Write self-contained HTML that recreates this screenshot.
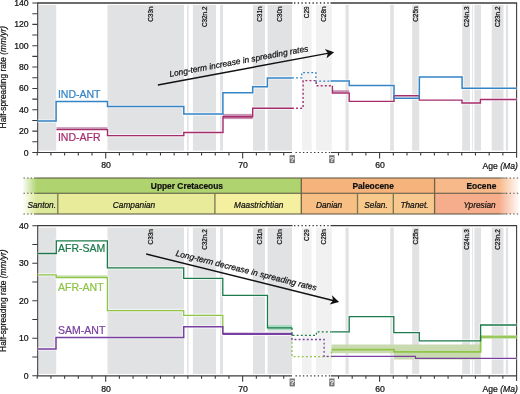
<!DOCTYPE html><html><head><meta charset="utf-8"><style>
html,body{margin:0;padding:0;background:#fff;}body{width:520px;height:394px;overflow:hidden;}
svg{display:block;will-change:transform;font-family:"Liberation Sans",sans-serif;}
</style></head><body>
<svg width="520" height="394" viewBox="0 0 520 394">
<defs>
<linearGradient id="fadeL" x1="0" x2="1" y1="0" y2="0"><stop offset="0" stop-color="#fff" stop-opacity="1"/><stop offset="1" stop-color="#fff" stop-opacity="0"/></linearGradient>
<linearGradient id="fadeR" x1="0" x2="1" y1="0" y2="0"><stop offset="0" stop-color="#fff" stop-opacity="0"/><stop offset="1" stop-color="#fff" stop-opacity="1"/></linearGradient>
</defs>
<rect x="38.4" y="4.9" width="17.8" height="145.7" fill="#e1e2e4"/>
<rect x="107.5" y="4.9" width="76.5" height="145.7" fill="#e1e2e4"/>
<rect x="187.1" y="4.9" width="1.5" height="145.7" fill="#e1e2e4"/>
<rect x="192.9" y="4.9" width="23.1" height="145.7" fill="#e1e2e4"/>
<rect x="220.1" y="4.9" width="2.9" height="145.7" fill="#e1e2e4"/>
<rect x="253" y="4.9" width="12" height="145.7" fill="#e1e2e4"/>
<rect x="267.6" y="4.9" width="24.4" height="145.7" fill="#e1e2e4"/>
<rect x="302" y="4.9" width="9.6" height="145.7" fill="#f1f1f1"/>
<rect x="316" y="4.9" width="15.8" height="145.7" fill="#f1f1f1"/>
<rect x="345.5" y="4.9" width="3.2" height="145.7" fill="#e1e2e4"/>
<rect x="390.2" y="4.9" width="3.6" height="145.7" fill="#e1e2e4"/>
<rect x="412.2" y="4.9" width="7" height="145.7" fill="#e1e2e4"/>
<rect x="462.2" y="4.9" width="7.8" height="145.7" fill="#e1e2e4"/>
<rect x="472.1" y="4.9" width="0.8" height="145.7" fill="#e1e2e4"/>
<rect x="474.4" y="4.9" width="6.6" height="145.7" fill="#e1e2e4"/>
<rect x="491.7" y="4.9" width="11.8" height="145.7" fill="#e1e2e4"/>
<rect x="505.8" y="4.9" width="2.3" height="145.7" fill="#e1e2e4"/>
<text transform="translate(152.5,6.5) rotate(-90)" text-anchor="end" font-size="6.4" fill="#111" stroke="#111" stroke-width="0.22">C33n</text>
<text transform="translate(207.1,6.5) rotate(-90)" text-anchor="end" font-size="6.4" fill="#111" stroke="#111" stroke-width="0.22">C32n.2</text>
<text transform="translate(261.5,6.5) rotate(-90)" text-anchor="end" font-size="6.4" fill="#111" stroke="#111" stroke-width="0.22">C31n</text>
<text transform="translate(282.3,6.5) rotate(-90)" text-anchor="end" font-size="6.4" fill="#111" stroke="#111" stroke-width="0.22">C30n</text>
<text transform="translate(309.3,6.5) rotate(-90)" text-anchor="end" font-size="6.4" fill="#111" stroke="#111" stroke-width="0.22">C29</text>
<text transform="translate(326.1,6.5) rotate(-90)" text-anchor="end" font-size="6.4" fill="#111" stroke="#111" stroke-width="0.22">C28n</text>
<text transform="translate(418.1,6.5) rotate(-90)" text-anchor="end" font-size="6.4" fill="#111" stroke="#111" stroke-width="0.22">C25n</text>
<text transform="translate(468.6,6.5) rotate(-90)" text-anchor="end" font-size="6.4" fill="#111" stroke="#111" stroke-width="0.22">C24n.3</text>
<text transform="translate(500,6.5) rotate(-90)" text-anchor="end" font-size="6.4" fill="#111" stroke="#111" stroke-width="0.22">C23n.2</text>
<path d="M37.1 3H292.5M330.5 3H517.1" stroke="#3c3c3c" stroke-width="1.3" fill="none"/>
<path d="M294 3H330" stroke="#3c3c3c" stroke-width="1.3" stroke-dasharray="1.4 2.3" fill="none"/>
<path d="M37.1 152.5H292M330.8 152.5H517.1" stroke="#3c3c3c" stroke-width="1.2" fill="none"/>
<path d="M295.5 152.5H330" stroke="#3c3c3c" stroke-width="1.2" stroke-dasharray="1.4 2.3" fill="none"/>
<path d="M37.7 3V152.5" stroke="#3c3c3c" stroke-width="1.1" fill="none"/>
<path d="M516.6 3V157.8" stroke="#3c3c3c" stroke-width="1.1" fill="none"/>
<path d="M32.3 152.5H37.7M32.3 141.82H37.7M32.3 131.14H37.7M32.3 120.46H37.7M32.3 109.79H37.7M32.3 99.11H37.7M32.3 88.43H37.7M32.3 77.75H37.7M32.3 67.07H37.7M32.3 56.39H37.7M32.3 45.71H37.7M32.3 35.04H37.7M32.3 24.36H37.7M32.3 13.68H37.7M32.3 3H37.7" stroke="#3c3c3c" stroke-width="1.1" fill="none"/>
<path d="M37.23 152.5v3M50.92 152.5v3M64.62 152.5v3M78.31 152.5v3M92 152.5v3M105.7 152.5v5.9M119.4 152.5v3M133.09 152.5v3M146.78 152.5v3M160.48 152.5v3M174.18 152.5v3M187.87 152.5v3M201.56 152.5v3M215.26 152.5v3M228.95 152.5v3M242.65 152.5v5.9M256.35 152.5v3M270.04 152.5v3M283.74 152.5v3M338.51 152.5v3M352.21 152.5v3M365.9 152.5v3M379.6 152.5v5.9M393.3 152.5v3M406.99 152.5v3M420.69 152.5v3M434.38 152.5v3M448.07 152.5v3M461.77 152.5v3M475.46 152.5v3M489.16 152.5v3M502.86 152.5v3" stroke="#3c3c3c" stroke-width="1.1" fill="none"/>
<rect x="289.6" y="155.2" width="5.3" height="7.9" fill="#747474"/>
<text x="292.25" y="162.1" text-anchor="middle" font-size="7.6" font-weight="bold" fill="#e6e6e6" stroke="#e6e6e6" stroke-width="0.22">?</text>
<rect x="329.2" y="155.2" width="5.3" height="7.9" fill="#747474"/>
<text x="331.85" y="162.1" text-anchor="middle" font-size="7.6" font-weight="bold" fill="#e6e6e6" stroke="#e6e6e6" stroke-width="0.22">?</text>
<text transform="translate(106.1,168.4) scale(1,1.08)" text-anchor="middle" font-size="8.7" fill="#111" stroke="#111" stroke-width="0.22">80</text>
<text transform="translate(243.05,168.4) scale(1,1.08)" text-anchor="middle" font-size="8.7" fill="#111" stroke="#111" stroke-width="0.22">70</text>
<text transform="translate(380,168.4) scale(1,1.08)" text-anchor="middle" font-size="8.7" fill="#111" stroke="#111" stroke-width="0.22">60</text>
<text x="517.8" y="168.5" text-anchor="end" font-size="8.6" fill="#111" stroke="#111" stroke-width="0.22">Age <tspan font-style="italic">(Ma)</tspan></text>
<text transform="translate(28.7,155.5) scale(1,1.08)" text-anchor="end" font-size="8.7" fill="#111" stroke="#111" stroke-width="0.22">0</text>
<text transform="translate(28.7,134.14) scale(1,1.08)" text-anchor="end" font-size="8.7" fill="#111" stroke="#111" stroke-width="0.22">20</text>
<text transform="translate(28.7,112.79) scale(1,1.08)" text-anchor="end" font-size="8.7" fill="#111" stroke="#111" stroke-width="0.22">40</text>
<text transform="translate(28.7,91.43) scale(1,1.08)" text-anchor="end" font-size="8.7" fill="#111" stroke="#111" stroke-width="0.22">60</text>
<text transform="translate(28.7,70.07) scale(1,1.08)" text-anchor="end" font-size="8.7" fill="#111" stroke="#111" stroke-width="0.22">80</text>
<text transform="translate(28.7,48.71) scale(1,1.08)" text-anchor="end" font-size="8.7" fill="#111" stroke="#111" stroke-width="0.22">100</text>
<text transform="translate(28.7,27.36) scale(1,1.08)" text-anchor="end" font-size="8.7" fill="#111" stroke="#111" stroke-width="0.22">120</text>
<text transform="translate(28.7,6) scale(1,1.08)" text-anchor="end" font-size="8.7" fill="#111" stroke="#111" stroke-width="0.22">140</text>
<text transform="translate(6.1,77.2) rotate(-90)" text-anchor="middle" font-size="8.4" fill="#111" stroke="#111" stroke-width="0.22">Half-spreading rate <tspan font-style="italic">(mm/yr)</tspan></text>
<path d="M56.5 129.6 L107.5 129.6 L107.5 135.6 L183.8 135.6 L183.8 132.5 L223 132.5 L223 116.7 L252.7 116.7 L252.7 108.2 L292 108.2" stroke="#fff" stroke-opacity="0.5" stroke-width="3.6" fill="none"/>
<path d="M332.4 85.8 L332.4 93.1 L349.2 93.1 L349.2 101.4 L394 101.4 L394 95.8 L419.3 95.8 L419.3 100.1 L462 100.1 L462 103 L480.4 103 L480.4 99.5 L516.6 99.5" stroke="#fff" stroke-opacity="0.5" stroke-width="3.6" fill="none"/>
<path d="M37.7 121.1 L56.1 121.1 L56.1 101.5 L107.5 101.5 L107.5 106.5 L183.8 106.5 L183.8 114.1 L222.9 114.1 L222.9 92.7 L252.7 92.7 L252.7 86.8 L267.4 86.8 L267.4 77.9 L292 77.9" stroke="#fff" stroke-opacity="0.5" stroke-width="3.7" fill="none"/>
<path d="M330.5 81.1 L349.2 81.1 L349.2 85.4 L394 85.4 L394 98.2 L419.3 98.2 L419.4 76.9 L462.1 76.9 L462.1 88.3 L516.6 88.3" stroke="#fff" stroke-opacity="0.5" stroke-width="3.7" fill="none"/>
<rect x="56.5" y="127.2" width="51" height="2.4" fill="#c893b3"/>
<rect x="223" y="113.9" width="29.7" height="5.2" fill="#c893b3"/>
<rect x="332.4" y="90.2" width="16.8" height="2.9" fill="#c893b3"/>
<path d="M56.5 129.6 L107.5 129.6 L107.5 135.6 L183.8 135.6 L183.8 132.5 L223 132.5 L223 116.7 L252.7 116.7 L252.7 108.2 L292 108.2" stroke="#a62c6c" stroke-width="1.4" fill="none" stroke-linejoin="miter" stroke-linecap="butt"/>
<path d="M292 108.2 L303.1 108.2 L303.1 80.6 L316.2 80.6 L316.2 85.8 L332.4 85.8" stroke="#a62c6c" stroke-width="1.4" fill="none" stroke-linejoin="miter" stroke-linecap="butt" stroke-dasharray="1.9 2.2"/>
<path d="M332.4 85.8 L332.4 93.1 L349.2 93.1 L349.2 101.4 L394 101.4 L394 95.8 L419.3 95.8 L419.3 100.1 L462 100.1 L462 103 L480.4 103 L480.4 99.5 L516.6 99.5" stroke="#a62c6c" stroke-width="1.4" fill="none" stroke-linejoin="miter" stroke-linecap="butt"/>
<path d="M37.7 121.1 L56.1 121.1 L56.1 101.5 L107.5 101.5 L107.5 106.5 L183.8 106.5 L183.8 114.1 L222.9 114.1 L222.9 92.7 L252.7 92.7 L252.7 86.8 L267.4 86.8 L267.4 77.9 L292 77.9" stroke="#3485c6" stroke-width="1.5" fill="none" stroke-linejoin="miter" stroke-linecap="butt"/>
<path d="M292 77.9 L301.7 77.9 L301.7 72.6 L315.9 72.6 L315.9 81.1 L330.5 81.1" stroke="#3485c6" stroke-width="1.3" fill="none" stroke-linejoin="miter" stroke-linecap="butt" stroke-dasharray="1.9 2.2"/>
<path d="M330.5 81.1 L349.2 81.1 L349.2 85.4 L394 85.4 L394 98.2 L419.3 98.2 L419.4 76.9 L462.1 76.9 L462.1 88.3 L516.6 88.3" stroke="#3485c6" stroke-width="1.5" fill="none" stroke-linejoin="miter" stroke-linecap="butt"/>
<text x="57.9" y="97.7" font-size="10.5" fill="#3485c6" stroke="#3485c6" stroke-width="0.22">IND-ANT</text>
<text x="57.9" y="140.6" font-size="10.5" fill="#a62c6c" stroke="#a62c6c" stroke-width="0.22">IND-AFR</text>
<g transform="translate(157.9,85) rotate(-10.56)">
<path d="M0 0H173.93" stroke="#111" stroke-width="1.4"/>
<path d="M179.23 0L170.73 -4.7L172.93 0L170.73 4.7Z" fill="#111"/>
<text x="13.3" y="-5.7" font-size="8.4" font-style="italic" fill="#111" stroke="#111" stroke-width="0.22">Long-term increase in spreading rates</text>
</g>
<rect x="23" y="178" width="278.2" height="15.3" fill="#afd36e"/>
<rect x="301.2" y="178" width="133.4" height="15.3" fill="#f7b37c"/>
<rect x="434.6" y="178" width="84.4" height="15.3" fill="#f8b98a"/>
<rect x="23" y="193.3" width="34.5" height="20.7" fill="#dce99a"/>
<rect x="57.5" y="193.3" width="157.3" height="20.7" fill="#e7eb9a"/>
<rect x="214.8" y="193.3" width="86.4" height="20.7" fill="#f4f0a0"/>
<rect x="301.2" y="193.3" width="56.3" height="20.7" fill="#f8bf84"/>
<rect x="357.5" y="193.3" width="35.8" height="20.7" fill="#f9c88b"/>
<rect x="393.3" y="193.3" width="41.3" height="20.7" fill="#f8c98f"/>
<rect x="434.6" y="193.3" width="84.4" height="20.7" fill="#f6ad8b"/>
<path d="M34.5 178H506M34.5 193.3H506M34.5 214H506" stroke="#55513f" stroke-width="1.1" fill="none"/>
<path d="M57.8 193.3V214M214.9 193.3V214M357.5 193.3V214M393.3 193.3V214" stroke="#7a7650" stroke-width="1.3" fill="none"/>
<path d="M301.3 178V214M434.6 178V214" stroke="#6e6448" stroke-width="1.3" fill="none"/>
<rect x="22" y="177" width="15" height="38" fill="url(#fadeL)"/>
<rect x="499" y="177" width="21" height="38" fill="url(#fadeR)"/>
<rect x="0" y="177" width="23" height="38" fill="#fff"/>
<path d="M23.5 178H35M23.5 193.3H35M23.5 214H35M506 178H520M506 193.3H520M506 214H520" stroke="#55513f" stroke-width="1.1" stroke-dasharray="1.4 2.2" fill="none"/>
<text x="186.9" y="188.7" text-anchor="middle" font-size="8.4" font-weight="bold" fill="#111" stroke="#111" stroke-width="0.22">Upper Cretaceous</text>
<text x="373.1" y="188.7" text-anchor="middle" font-size="8.4" font-weight="bold" fill="#111" stroke="#111" stroke-width="0.22">Paleocene</text>
<text x="481.4" y="188.7" text-anchor="middle" font-size="8.4" font-weight="bold" fill="#111" stroke="#111" stroke-width="0.22">Eocene</text>
<text x="41.7" y="207.5" text-anchor="middle" font-size="8.3" font-style="italic" fill="#111" stroke="#111" stroke-width="0.22">Santon.</text>
<text x="134" y="207.5" text-anchor="middle" font-size="8.3" font-style="italic" fill="#111" stroke="#111" stroke-width="0.22">Campanian</text>
<text x="258.7" y="207.5" text-anchor="middle" font-size="8.3" font-style="italic" fill="#111" stroke="#111" stroke-width="0.22">Maastrichtian</text>
<text x="329.1" y="207.5" text-anchor="middle" font-size="8.3" font-style="italic" fill="#111" stroke="#111" stroke-width="0.22">Danian</text>
<text x="376" y="207.5" text-anchor="middle" font-size="8.3" font-style="italic" fill="#111" stroke="#111" stroke-width="0.22">Selan.</text>
<text x="414.5" y="207.5" text-anchor="middle" font-size="8.3" font-style="italic" fill="#111" stroke="#111" stroke-width="0.22">Thanet.</text>
<text x="479.6" y="207.5" text-anchor="middle" font-size="8.3" font-style="italic" fill="#111" stroke="#111" stroke-width="0.22">Ypresian</text>
<rect x="38.4" y="227.6" width="17.8" height="146.3" fill="#e1e2e4"/>
<rect x="107.5" y="227.6" width="76.5" height="146.3" fill="#e1e2e4"/>
<rect x="187.1" y="227.6" width="1.5" height="146.3" fill="#e1e2e4"/>
<rect x="192.9" y="227.6" width="23.1" height="146.3" fill="#e1e2e4"/>
<rect x="220.1" y="227.6" width="2.9" height="146.3" fill="#e1e2e4"/>
<rect x="253" y="227.6" width="12" height="146.3" fill="#e1e2e4"/>
<rect x="267.6" y="227.6" width="24.4" height="146.3" fill="#e1e2e4"/>
<rect x="302" y="227.6" width="9.6" height="146.3" fill="#f1f1f1"/>
<rect x="316" y="227.6" width="15.8" height="146.3" fill="#f1f1f1"/>
<rect x="345.5" y="227.6" width="3.2" height="146.3" fill="#e1e2e4"/>
<rect x="390.2" y="227.6" width="3.6" height="146.3" fill="#e1e2e4"/>
<rect x="412.2" y="227.6" width="7" height="146.3" fill="#e1e2e4"/>
<rect x="462.2" y="227.6" width="7.8" height="146.3" fill="#e1e2e4"/>
<rect x="472.1" y="227.6" width="0.8" height="146.3" fill="#e1e2e4"/>
<rect x="474.4" y="227.6" width="6.6" height="146.3" fill="#e1e2e4"/>
<rect x="491.7" y="227.6" width="11.8" height="146.3" fill="#e1e2e4"/>
<rect x="505.8" y="227.6" width="2.3" height="146.3" fill="#e1e2e4"/>
<text transform="translate(152.5,229.2) rotate(-90)" text-anchor="end" font-size="6.4" fill="#111" stroke="#111" stroke-width="0.22">C33n</text>
<text transform="translate(207.1,229.2) rotate(-90)" text-anchor="end" font-size="6.4" fill="#111" stroke="#111" stroke-width="0.22">C32n.2</text>
<text transform="translate(261.5,229.2) rotate(-90)" text-anchor="end" font-size="6.4" fill="#111" stroke="#111" stroke-width="0.22">C31n</text>
<text transform="translate(282.3,229.2) rotate(-90)" text-anchor="end" font-size="6.4" fill="#111" stroke="#111" stroke-width="0.22">C30n</text>
<text transform="translate(309.3,229.2) rotate(-90)" text-anchor="end" font-size="6.4" fill="#111" stroke="#111" stroke-width="0.22">C29</text>
<text transform="translate(326.1,229.2) rotate(-90)" text-anchor="end" font-size="6.4" fill="#111" stroke="#111" stroke-width="0.22">C28n</text>
<text transform="translate(418.1,229.2) rotate(-90)" text-anchor="end" font-size="6.4" fill="#111" stroke="#111" stroke-width="0.22">C25n</text>
<text transform="translate(468.6,229.2) rotate(-90)" text-anchor="end" font-size="6.4" fill="#111" stroke="#111" stroke-width="0.22">C24n.3</text>
<text transform="translate(500,229.2) rotate(-90)" text-anchor="end" font-size="6.4" fill="#111" stroke="#111" stroke-width="0.22">C23n.2</text>
<path d="M37.1 225.7H292.5M330.5 225.7H517.1" stroke="#3c3c3c" stroke-width="1.3" fill="none"/>
<path d="M294 225.7H330" stroke="#3c3c3c" stroke-width="1.3" stroke-dasharray="1.4 2.3" fill="none"/>
<path d="M37.1 375.8H292M330.8 375.8H517.1" stroke="#3c3c3c" stroke-width="1.2" fill="none"/>
<path d="M295.5 375.8H330" stroke="#3c3c3c" stroke-width="1.2" stroke-dasharray="1.4 2.3" fill="none"/>
<path d="M37.7 225.7V375.8" stroke="#3c3c3c" stroke-width="1.1" fill="none"/>
<path d="M516.6 225.7V381.1" stroke="#3c3c3c" stroke-width="1.1" fill="none"/>
<path d="M32.3 375.8H37.7M32.3 357.04H37.7M32.3 338.27H37.7M32.3 319.51H37.7M32.3 300.75H37.7M32.3 281.99H37.7M32.3 263.23H37.7M32.3 244.46H37.7M32.3 225.7H37.7" stroke="#3c3c3c" stroke-width="1.1" fill="none"/>
<path d="M37.23 375.8v3M50.92 375.8v3M64.62 375.8v3M78.31 375.8v3M92 375.8v3M105.7 375.8v5.9M119.4 375.8v3M133.09 375.8v3M146.78 375.8v3M160.48 375.8v3M174.18 375.8v3M187.87 375.8v3M201.56 375.8v3M215.26 375.8v3M228.95 375.8v3M242.65 375.8v5.9M256.35 375.8v3M270.04 375.8v3M283.74 375.8v3M338.51 375.8v3M352.21 375.8v3M365.9 375.8v3M379.6 375.8v5.9M393.3 375.8v3M406.99 375.8v3M420.69 375.8v3M434.38 375.8v3M448.07 375.8v3M461.77 375.8v3M475.46 375.8v3M489.16 375.8v3M502.86 375.8v3" stroke="#3c3c3c" stroke-width="1.1" fill="none"/>
<rect x="289.6" y="378.5" width="5.3" height="7.9" fill="#747474"/>
<text x="292.25" y="385.4" text-anchor="middle" font-size="7.6" font-weight="bold" fill="#e6e6e6" stroke="#e6e6e6" stroke-width="0.22">?</text>
<rect x="329.2" y="378.5" width="5.3" height="7.9" fill="#747474"/>
<text x="331.85" y="385.4" text-anchor="middle" font-size="7.6" font-weight="bold" fill="#e6e6e6" stroke="#e6e6e6" stroke-width="0.22">?</text>
<text transform="translate(106.1,391.7) scale(1,1.08)" text-anchor="middle" font-size="8.7" fill="#111" stroke="#111" stroke-width="0.22">80</text>
<text transform="translate(243.05,391.7) scale(1,1.08)" text-anchor="middle" font-size="8.7" fill="#111" stroke="#111" stroke-width="0.22">70</text>
<text transform="translate(380,391.7) scale(1,1.08)" text-anchor="middle" font-size="8.7" fill="#111" stroke="#111" stroke-width="0.22">60</text>
<text x="517.8" y="391.8" text-anchor="end" font-size="8.6" fill="#111" stroke="#111" stroke-width="0.22">Age <tspan font-style="italic">(Ma)</tspan></text>
<text transform="translate(28.7,378.8) scale(1,1.08)" text-anchor="end" font-size="8.7" fill="#111" stroke="#111" stroke-width="0.22">0</text>
<text transform="translate(28.7,341.27) scale(1,1.08)" text-anchor="end" font-size="8.7" fill="#111" stroke="#111" stroke-width="0.22">10</text>
<text transform="translate(28.7,303.75) scale(1,1.08)" text-anchor="end" font-size="8.7" fill="#111" stroke="#111" stroke-width="0.22">20</text>
<text transform="translate(28.7,266.23) scale(1,1.08)" text-anchor="end" font-size="8.7" fill="#111" stroke="#111" stroke-width="0.22">30</text>
<text transform="translate(28.7,228.7) scale(1,1.08)" text-anchor="end" font-size="8.7" fill="#111" stroke="#111" stroke-width="0.22">40</text>
<text transform="translate(6.1,300.7) rotate(-90)" text-anchor="middle" font-size="8.4" fill="#111" stroke="#111" stroke-width="0.22">Half-spreading rate <tspan font-style="italic">(mm/yr)</tspan></text>
<path d="M37.7 274.8 L56.2 274.8 L56.2 277.7 L107.4 277.7 L107.4 310.6 L183.7 310.6 L183.7 315.3 L222.8 315.3 L222.8 333.6 L292 333.6" stroke="#fff" stroke-opacity="0.5" stroke-width="3.5" fill="none"/>
<path d="M331.5 349.6 L394 349.6 L394 351.9 L480.6 351.9 L480.6 336.9 L516.6 336.9" stroke="#fff" stroke-opacity="0.5" stroke-width="4" fill="none"/>
<path d="M37.7 348.9 L56 348.9 L56 337.5 L183.7 337.5 L183.7 326.8 L222.8 326.8 L222.8 333.8 L292 333.8" stroke="#fff" stroke-opacity="0.5" stroke-width="3.7" fill="none"/>
<path d="M222.8 333.9 L292 333.9" stroke="#fff" stroke-opacity="0.5" stroke-width="4.3" fill="none"/>
<path d="M331.5 356.4 L415.5 356.4 L415.5 358.4 L516.6 358.4" stroke="#fff" stroke-opacity="0.5" stroke-width="3.4" fill="none"/>
<path d="M37.7 253.5 L56.3 253.5 L56.3 240.9 L107.4 240.9 L107.4 267.9 L183.7 267.9 L183.7 278.3 L222.8 278.3 L222.8 295.3 L267.5 295.3 L267.5 327.8 L292 327.8" stroke="#fff" stroke-opacity="0.5" stroke-width="3.5" fill="none"/>
<path d="M331.5 331.8 L349.2 331.8 L349.2 316.6 L393.8 316.6 L393.8 332.7 L419.3 332.7 L419.3 340.8 L480.6 340.8 L480.6 325 L516.6 325" stroke="#fff" stroke-opacity="0.5" stroke-width="3.5" fill="none"/>
<path d="M331.5 344.6H480.6V359.5H394.0V353.2H331.5Z" fill="#c9dab1"/>
<rect x="267.6" y="325.0" width="24.4" height="5.0" fill="#a9dcc2"/>
<rect x="56.2" y="275.4" width="51.2" height="2.5" fill="#c3dea6"/>
<path d="M37.7 274.8 L56.2 274.8 L56.2 277.7 L107.4 277.7 L107.4 310.6 L183.7 310.6 L183.7 315.3 L222.8 315.3 L222.8 333.6 L292 333.6" stroke="#8fc549" stroke-width="1.3" fill="none" stroke-linejoin="miter" stroke-linecap="butt"/>
<path d="M292 333.6 L292 356.6 L331.5 356.6 L331.5 349.6" stroke="#8fc549" stroke-width="1.3" fill="none" stroke-linejoin="miter" stroke-linecap="butt" stroke-dasharray="1.9 2.2"/>
<path d="M331.5 349.6 L394 349.6 L394 351.9 L480.6 351.9 L480.6 336.9 L516.6 336.9" stroke="#8fc549" stroke-width="1.8" fill="none" stroke-linejoin="miter" stroke-linecap="butt"/>
<rect x="480.6" y="335.5" width="36" height="2.9" fill="#98c75c"/>
<path d="M37.7 348.9 L56 348.9 L56 337.5 L183.7 337.5 L183.7 326.8 L222.8 326.8 L222.8 333.8 L292 333.8" stroke="#7840a0" stroke-width="1.5" fill="none" stroke-linejoin="miter" stroke-linecap="butt"/>
<path d="M222.8 333.9 L292 333.9" stroke="#7840a0" stroke-width="2.1" fill="none" stroke-linejoin="miter" stroke-linecap="butt"/>
<path d="M292 333.8 L292 339.5 L324.1 339.5 L324.1 356.4 L331.5 356.4" stroke="#7840a0" stroke-width="1.3" fill="none" stroke-linejoin="miter" stroke-linecap="butt" stroke-dasharray="1.9 2.2"/>
<path d="M331.5 356.4 L415.5 356.4 L415.5 358.4 L516.6 358.4" stroke="#7840a0" stroke-width="1.2" fill="none" stroke-linejoin="miter" stroke-linecap="butt"/>
<path d="M37.7 253.5 L56.3 253.5 L56.3 240.9 L107.4 240.9 L107.4 267.9 L183.7 267.9 L183.7 278.3 L222.8 278.3 L222.8 295.3 L267.5 295.3 L267.5 327.8 L292 327.8" stroke="#1c7a4b" stroke-width="1.3" fill="none" stroke-linejoin="miter" stroke-linecap="butt"/>
<path d="M292 327.8 L292 335.4 L316.4 335.4 L316.4 331.8 L331.5 331.8" stroke="#1c7a4b" stroke-width="1.3" fill="none" stroke-linejoin="miter" stroke-linecap="butt" stroke-dasharray="1.9 2.2"/>
<path d="M331.5 331.8 L349.2 331.8 L349.2 316.6 L393.8 316.6 L393.8 332.7 L419.3 332.7 L419.3 340.8 L480.6 340.8 L480.6 325 L516.6 325" stroke="#1c7a4b" stroke-width="1.3" fill="none" stroke-linejoin="miter" stroke-linecap="butt"/>
<text x="58.1" y="252.0" font-size="10.5" fill="#1c7a4b" stroke="#1c7a4b" stroke-width="0.22">AFR-SAM</text>
<text x="58.1" y="290.7" font-size="10.5" fill="#8fc549" stroke="#8fc549" stroke-width="0.22">AFR-ANT</text>
<text x="58.1" y="334.3" font-size="10.5" fill="#7840a0" stroke="#7840a0" stroke-width="0.22">SAM-ANT</text>
<g transform="translate(146.2,254) rotate(13.97)">
<path d="M0 0H193.47" stroke="#111" stroke-width="1.4"/>
<path d="M198.77 0L190.27 -4.7L192.47 0L190.27 4.7Z" fill="#111"/>
<text x="28.6" y="-5.3" font-size="8.45" font-style="italic" fill="#111" stroke="#111" stroke-width="0.22">Long-term decrease in spreading rates</text>
</g>
</svg></body></html>
